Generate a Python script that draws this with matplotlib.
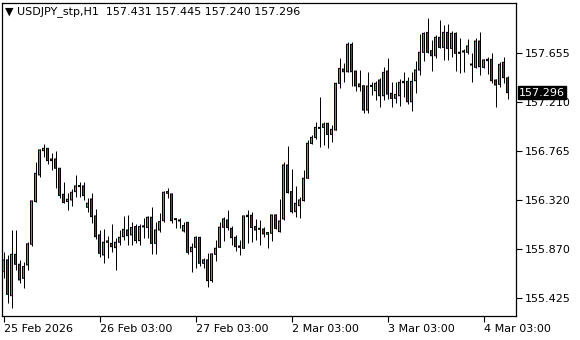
import matplotlib
matplotlib.use("Agg")
import matplotlib.pyplot as plt
import matplotlib.transforms as mtransforms
import numpy as np

# hourly USDJPY bars
opens = [155.663, 155.770, 155.444, 155.821, 155.730, 155.602, 155.724, 155.913, 156.302, 156.545,
         156.767, 156.788, 156.691, 156.691, 156.606, 156.369, 156.302, 156.317, 156.393, 156.448,
         156.445, 156.250, 156.326, 156.171, 155.998, 155.815, 155.931, 155.921, 155.882, 155.931,
         155.982, 156.043, 155.998, 156.074, 155.946, 156.071, 156.065, 156.159, 155.921, 156.043,
         156.128, 156.378, 156.372, 156.137, 156.134, 156.034, 156.113, 155.845, 155.885, 155.976,
         155.739, 155.770, 155.581, 155.821, 155.885, 156.068, 156.134, 156.058, 155.976, 155.897,
         155.876, 156.177, 156.177, 156.074, 156.052, 156.052, 156.004, 156.013, 156.180, 156.028,
         156.144, 156.636, 156.393, 156.210, 156.265, 156.311, 156.515, 156.833, 156.888, 156.979,
         156.979, 157.016, 156.915, 156.955, 157.381, 157.511, 157.487, 157.737, 157.493, 157.375,
         157.359, 157.137, 157.356, 157.314, 157.411, 157.268, 157.493, 157.290, 157.244, 157.268,
         157.387, 157.399, 157.213, 157.405, 157.503, 157.664, 157.846, 157.679, 157.633, 157.801,
         157.709, 157.846, 157.700, 157.837, 157.664, 157.670, 157.664, 157.557, 157.527, 157.767,
         157.527, 157.600, 157.600, 157.411, 157.372, 157.573, 157.431]
highs = [155.846, 155.815, 156.043, 156.043, 155.770, 155.754, 155.931, 156.308, 156.661, 156.782,
         156.825, 156.788, 156.743, 156.764, 156.606, 156.478, 156.378, 156.417, 156.545, 156.484,
         156.478, 156.332, 156.378, 156.235, 156.043, 156.052, 155.991, 156.098, 155.967, 156.043,
         156.171, 156.180, 156.119, 156.095, 156.095, 156.150, 156.174, 156.250, 156.119, 156.195,
         156.402, 156.423, 156.372, 156.156, 156.150, 156.119, 156.113, 155.921, 155.988, 155.976,
         155.785, 155.830, 155.830, 155.952, 156.119, 156.165, 156.226, 156.080, 155.998, 155.952,
         156.171, 156.226, 156.211, 156.141, 156.134, 156.068, 156.028, 156.180, 156.189, 156.326,
         156.667, 156.813, 156.597, 156.445, 156.341, 156.591, 156.864, 156.909, 157.025, 157.259,
         157.025, 157.016, 157.000, 157.381, 157.615, 157.563, 157.761, 157.761, 157.493, 157.502,
         157.359, 157.487, 157.396, 157.402, 157.426, 157.533, 157.609, 157.396, 157.396, 157.420,
         157.487, 157.441, 157.487, 157.588, 157.831, 157.852, 157.974, 157.776, 157.822, 157.959,
         157.913, 157.922, 157.861, 157.846, 157.792, 157.691, 157.782, 157.655, 157.798, 157.852,
         157.600, 157.624, 157.655, 157.417, 157.579, 157.624, 157.445]
lows = [155.602, 155.374, 155.329, 155.678, 155.563, 155.517, 155.678, 155.900, 156.302, 156.530,
        156.712, 156.642, 156.591, 156.430, 156.332, 156.293, 156.226, 156.265, 156.347, 156.347,
        156.317, 156.204, 156.104, 155.961, 155.800, 155.739, 155.785, 155.839, 155.678, 155.906,
        155.952, 155.906, 155.906, 155.921, 155.906, 155.967, 155.967, 155.821, 155.821, 156.028,
        156.119, 156.332, 156.104, 156.058, 156.058, 156.022, 155.821, 155.657, 155.693, 155.718,
        155.693, 155.526, 155.572, 155.763, 155.885, 155.946, 156.043, 155.906, 155.855, 155.815,
        155.876, 155.922, 155.937, 155.952, 155.906, 155.982, 155.876, 155.946, 156.052, 156.028,
        156.134, 156.378, 156.195, 156.159, 156.150, 156.311, 156.515, 156.824, 156.873, 156.803,
        156.818, 156.788, 156.848, 156.955, 157.335, 157.396, 157.487, 157.360, 157.311, 157.311,
        157.107, 157.107, 157.274, 157.229, 157.168, 157.229, 157.238, 157.168, 157.198, 157.177,
        157.259, 157.189, 157.128, 157.290, 157.457, 157.588, 157.655, 157.497, 157.609, 157.700,
        157.594, 157.594, 157.624, 157.497, 157.472, 157.487, 157.649, 157.396, 157.518, 157.457,
        157.518, 157.466, 157.381, 157.168, 157.344, 157.381, 157.240]
closes = [155.770, 155.456, 155.821, 155.730, 155.587, 155.709, 155.916, 156.308, 156.560, 156.773,
          156.788, 156.676, 156.676, 156.606, 156.357, 156.293, 156.323, 156.387, 156.445, 156.439,
          156.357, 156.287, 156.165, 155.982, 155.830, 155.931, 155.943, 155.891, 155.931, 155.976,
          156.049, 155.991, 156.065, 155.946, 156.074, 156.077, 156.159, 155.921, 156.043, 156.119,
          156.387, 156.393, 156.128, 156.144, 156.125, 156.083, 155.839, 155.885, 155.976, 155.739,
          155.770, 155.581, 155.824, 155.876, 156.068, 156.144, 156.065, 155.973, 155.891, 155.885,
          156.171, 156.165, 156.065, 156.043, 156.049, 156.007, 156.019, 156.180, 156.058, 156.125,
          156.636, 156.384, 156.210, 156.286, 156.317, 156.515, 156.834, 156.888, 156.979, 156.970,
          157.010, 156.915, 156.961, 157.381, 157.517, 157.487, 157.737, 157.487, 157.357, 157.350,
          157.137, 157.356, 157.353, 157.381, 157.268, 157.481, 157.283, 157.244, 157.280, 157.390,
          157.399, 157.213, 157.399, 157.503, 157.664, 157.837, 157.664, 157.633, 157.801, 157.709,
          157.846, 157.700, 157.837, 157.655, 157.655, 157.667, 157.722, 157.548, 157.767, 157.533,
          157.594, 157.588, 157.405, 157.366, 157.554, 157.433, 157.296]

price_ticks = [157.655, 157.210, 156.765, 156.320, 155.870, 155.425]
date_ticks = [0, 24, 48, 72, 96, 120]
date_labels = ['25 Feb 2026', '26 Feb 03:00', '27 Feb 03:00', '2 Mar 03:00', '3 Mar 03:00', '4 Mar 03:00']
title = '\u25BC USDJPY_stp,H1  157.431 157.445 157.240 157.296'
last_price = closes[-1]

plt.rcParams['font.family'] = ['DejaVu Sans']
fig = plt.figure(figsize=(5.8, 3.4), dpi=100)
fig.patch.set_facecolor('white')
ax = fig.add_axes([2/580, 1 - 316/340, 514/580, 313/340])

ylo, yhi = 155.258, 158.114
px = (yhi - ylo) / 313  # price per pixel

o = np.array(opens); h = np.array(highs); l = np.array(lows); c = np.array(closes)
x = np.arange(len(o))
up = c >= o
cols = ['#00e000' if u else '#e01010' for u in up]
bot = np.minimum(o, c)
top = np.maximum(o, c)
hgt = np.maximum(top - bot, px)

# wick, black body frame, coloured body fill (3 px body, 1 px fill)
ax.vlines(x, l, h, color='black', lw=0.72, zorder=2)
frame = ax.bar(x, hgt + px, bottom=bot - px / 2, width=0.75, color='black',
               linewidth=0, zorder=3)
inner = hgt - px
fill = ax.bar(x, np.where(inner > 0, inner, 0), bottom=bot + px / 2, width=0.25,
              color=cols, linewidth=0, zorder=4)
for p in list(frame) + list(fill):
    p.set_snap(False)

ax.set_xlim(-0.375, 128.125)
ax.set_ylim(ylo, yhi)

for s in ax.spines.values():
    s.set_color('black')
    s.set_linewidth(0.9)

ax.yaxis.tick_right()
ax.set_yticks(price_ticks)
ax.set_yticklabels(['%.3f' % v for v in price_ticks])
ax.tick_params(axis='y', length=4, width=0.8, pad=2, labelsize=8, colors='black')

ax.set_xticks(date_ticks)
ax.set_xticklabels(date_labels)
for lab in ax.get_xticklabels():
    lab.set_ha('left')
ax.tick_params(axis='x', length=4, width=0.8, pad=2, labelsize=8, colors='black')

# current price marker on the price scale
tr = mtransforms.blended_transform_factory(ax.transAxes, ax.transData)
ax.text(1.0 + 3/514, last_price, '%.3f' % last_price, transform=tr, color='white',
        fontsize=8, va='center', ha='left', clip_on=False, zorder=10,
        bbox=dict(boxstyle='square,pad=0.12', facecolor='black', edgecolor='black'))

fig.text(5/580, 1 - 12/340, title, fontsize=8, va='center', ha='left', color='black')

fig.savefig('out.png', dpi=100)
